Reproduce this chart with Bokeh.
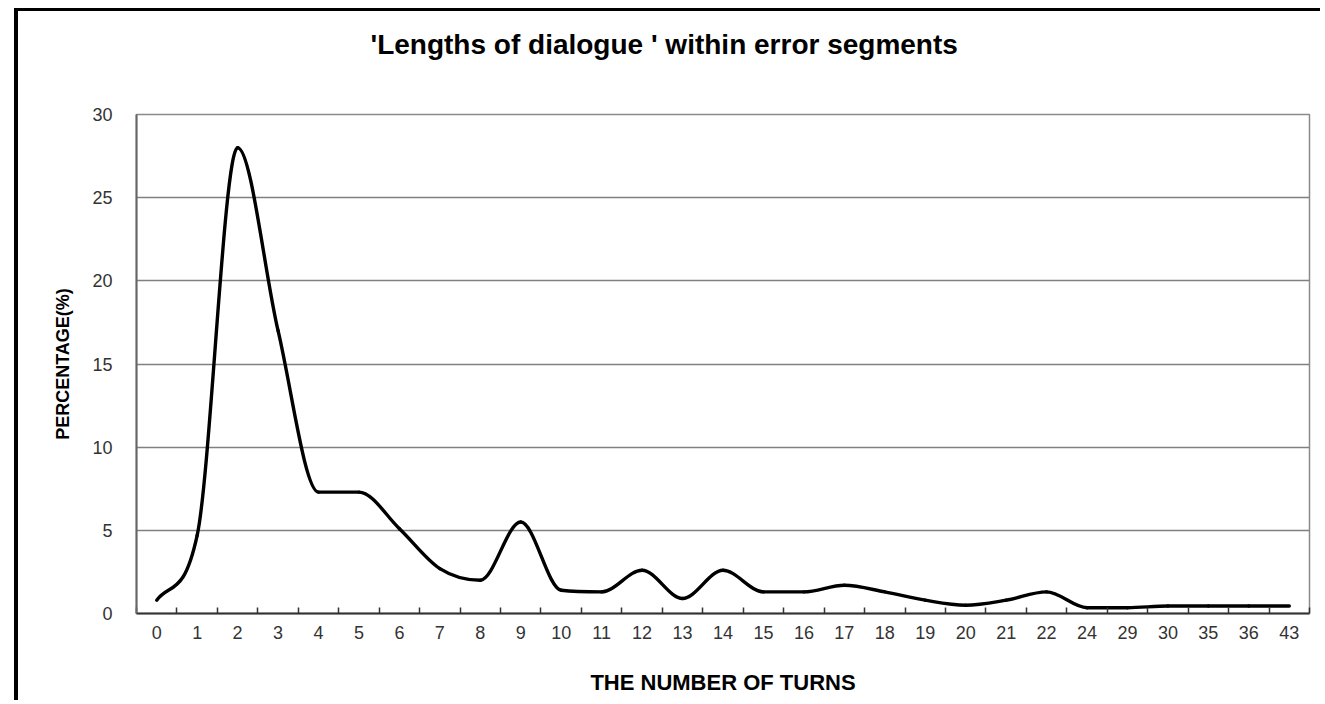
from bokeh.plotting import figure
from bokeh.models import Range1d, FixedTicker, ColumnDataSource, Title
from bokeh.embed import file_html
from bokeh.resources import INLINE

# ---- data ----
categories = ["0", "1", "2", "3", "4", "5", "6", "7", "8", "9", "10", "11", "12", "13",
              "14", "15", "16", "17", "18", "19", "20", "21", "22", "24", "29", "30",
              "35", "36", "43"]
percentages = [0.8, 4.7, 28.0, 17.0, 7.3, 7.3, 5.1, 2.7, 2.0, 5.5, 1.4, 1.3, 2.6, 0.9,
               2.6, 1.3, 1.3, 1.7, 1.3, 0.8, 0.5, 0.8, 1.3, 0.35, 0.35, 0.45,
               0.45, 0.45, 0.45]
y_ticks = [0, 5, 10, 15, 20, 25, 30]

title_text = "'Lengths of dialogue ' within error segments"
x_label = "THE NUMBER OF TURNS"
y_label = "PERCENTAGE(%)"

FONT = "Liberation Sans"

n = len(categories)
xs = [i + 0.5 for i in range(n)]   # category centres on the axis scale
ys = percentages

# smoothed line: monotone cubic (Fritsch-Carlson) tangents -> bezier control points
d = [ys[k + 1] - ys[k] for k in range(n - 1)]
m = [0.0] * n
m[0] = d[0]
m[-1] = d[-1]
for k in range(1, n - 1):
    m[k] = (d[k - 1] + d[k]) / 2.0 if d[k - 1] * d[k] > 0 else 0.0
for k in range(n - 1):
    if d[k] == 0:
        m[k] = 0.0
        m[k + 1] = 0.0
    else:
        a = m[k] / d[k]
        b = m[k + 1] / d[k]
        s = a * a + b * b
        if s > 9:
            t = 3.0 / s ** 0.5
            m[k] = t * a * d[k]
            m[k + 1] = t * b * d[k]

seg = dict(x0=[], y0=[], x1=[], y1=[], cx0=[], cy0=[], cx1=[], cy1=[])
for k in range(n - 1):
    seg["x0"].append(xs[k]); seg["y0"].append(ys[k])
    seg["x1"].append(xs[k + 1]); seg["y1"].append(ys[k + 1])
    seg["cx0"].append(xs[k] + (xs[k + 1] - xs[k]) / 3.0)
    seg["cy0"].append(ys[k] + m[k] / 3.0)
    seg["cx1"].append(xs[k + 1] - (xs[k + 1] - xs[k]) / 3.0)
    seg["cy1"].append(ys[k + 1] - m[k + 1] / 3.0)
src = ColumnDataSource(seg)

p = figure(width=1306, height=692, output_backend="svg", toolbar_location=None,
           x_range=Range1d(0, n), y_range=Range1d(0, 30),
           min_border_left=118, min_border_right=15, min_border_top=103,
           min_border_bottom=90, background_fill_color="white",
           border_fill_color="white")
p.styles = {"margin-left": "14px", "margin-top": "8px",
            "border-left": "4px solid black", "border-top": "3px solid black"}

p.bezier(x0="x0", y0="y0", x1="x1", y1="y1", cx0="cx0", cy0="cy0",
         cx1="cx1", cy1="cy1", source=src, line_color="black", line_width=3.4,
         line_cap="round")

# chart title
p.title.text = title_text
p.title.align = "left"
p.title.offset = 234
p.title.standoff = 29
p.title.text_font = FONT
p.title.text_font_size = "28px"
p.title.text_font_style = "bold"
p.title.text_color = "black"

# blank spacer between the title and the plot frame
spacer = Title(text=" ", text_font_size="1px", standoff=37)
p.add_layout(spacer, "above")

# frame
p.outline_line_color = "#8a8a8a"
p.outline_line_width = 1.5

# x axis
xa = p.xaxis[0]
xa.ticker = FixedTicker(ticks=xs, minor_ticks=list(range(n + 1)))
xa.major_label_overrides = {x: c for x, c in zip(xs, categories)}
xa.major_tick_in = 0
xa.major_tick_out = 0
xa.minor_tick_in = 6
xa.minor_tick_out = 0
xa.minor_tick_line_color = "#333333"
xa.minor_tick_line_width = 1.5
xa.axis_line_color = "#333333"
xa.axis_line_width = 2
xa.major_label_text_font = FONT
xa.major_label_text_font_size = "18px"
xa.major_label_text_color = "#333333"
xa.major_label_standoff = 12
xa.axis_label = x_label
xa.axis_label_text_font = FONT
xa.axis_label_text_font_size = "22px"
xa.axis_label_text_font_style = "bold"
xa.axis_label_text_color = "black"
xa.axis_label_standoff = 28

# y axis
ya = p.yaxis[0]
ya.ticker = FixedTicker(ticks=y_ticks)
ya.major_tick_in = 0
ya.major_tick_out = 0
ya.minor_tick_line_color = None
ya.axis_line_color = "#666666"
ya.axis_line_width = 2
ya.major_label_text_font = FONT
ya.major_label_text_font_size = "18px"
ya.major_label_text_color = "#333333"
ya.major_label_standoff = 24
ya.axis_label = y_label
ya.axis_label_text_font = FONT
ya.axis_label_text_font_size = "18px"
ya.axis_label_text_font_style = "bold"
ya.axis_label_text_color = "black"
ya.axis_label_standoff = 16

p.xgrid.grid_line_color = None
p.ygrid.grid_line_color = "#808080"
p.ygrid.grid_line_width = 1.5

open("out.html", "w").write(file_html(p, INLINE))
